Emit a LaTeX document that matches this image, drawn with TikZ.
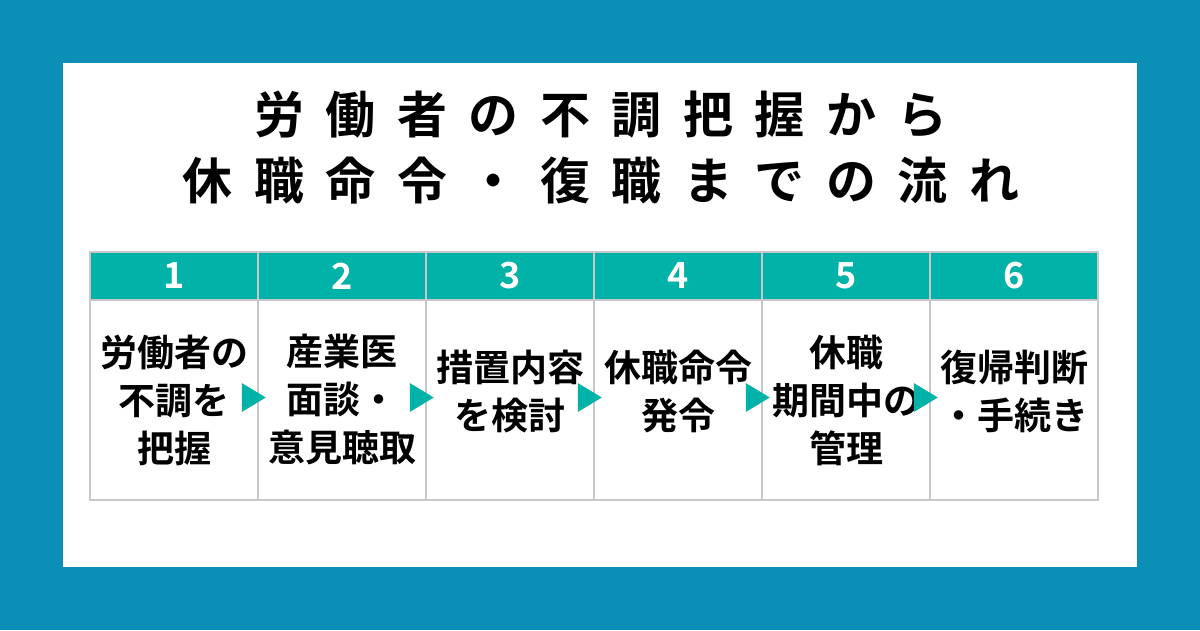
\documentclass[tikz,border=0pt]{standalone}
\usepackage{fontspec}
\setmainfont{Noto Sans CJK JP}[BoldFont={Noto Sans CJK JP Bold}]
\newfontfamily\titlefont{Noto Sans CJK JP Bold}[LetterSpace=43]
\usetikzlibrary{positioning}
\definecolor{bgblue}{RGB}{11,143,182}
\definecolor{headteal}{RGB}{0,178,168}
\definecolor{cellgray}{RGB}{200,200,200}

\begin{document}
\begin{tikzpicture}[x=1pt,y=-1pt]
  \tikzset{
  head/.style={
    rectangle,
    draw=cellgray,
    line width=1.5pt,
    fill=headteal,
    minimum width=168pt,
    minimum height=48pt,
    text=white,
    font=\bfseries\fontsize{36}{40}\selectfont
  },
  cell/.style={
    rectangle,
    draw=cellgray,
    line width=1.5pt,
    fill=white,
    minimum width=168pt,
    minimum height=200pt,
    align=center,
    font=\bfseries\fontsize{37}{48}\selectfont
  },
  twolines/.style={
    text depth=21pt
  },
  tip/.style={
    fill=headteal
  }
}
\fill[bgblue] (0,0) rectangle (1200,630);
\fill[white] (63,63) rectangle (1137,567);

\node[font=\titlefont\fontsize{50}{60}\selectfont] at (601,115)
  (title1) {労働者の不調把握から};
\node[font=\titlefont\fontsize{50}{60}\selectfont] at (601,181)
  (title2) {休職命令・復職までの流れ};

\node[head] at (174,276) (h1) {1};
\node[head] at (342,276) (h2) {2};
\node[head] at (510,276) (h3) {3};
\node[head] at (678,276) (h4) {4};
\node[head] at (846,276) (h5) {5};
\node[head] at (1014,276) (h6) {6};

\node[cell] at (174,400) (c1) {労働者の\\不調を\\把握};
\node[cell] at (342,400) (c2) {産業医\\面談・\\意見聴取};
\node[cell,twolines] at (510,400) (c3) {措置内容\\を検討};
\node[cell,twolines] at (678,400) (c4) {休職命令\\発令};
\node[cell] at (846,400) (c5) {休職\\期間中の\\管理};
\node[cell,twolines] at (1014,400) (c6) {復帰判断\\・手続き};

  % arrows between the steps
  \fill[tip] (c1.east) ++(-17,-17) -- ++(24,14.5) -- ++(-24,14.5) -- cycle;
  \fill[tip] (c2.east) ++(-17,-17) -- ++(24,14.5) -- ++(-24,14.5) -- cycle;
  \fill[tip] (c3.east) ++(-17,-17) -- ++(24,14.5) -- ++(-24,14.5) -- cycle;
  \fill[tip] (c4.east) ++(-17,-17) -- ++(24,14.5) -- ++(-24,14.5) -- cycle;
  \fill[tip] (c5.east) ++(-17,-17) -- ++(24,14.5) -- ++(-24,14.5) -- cycle;

\end{tikzpicture}
\end{document}
